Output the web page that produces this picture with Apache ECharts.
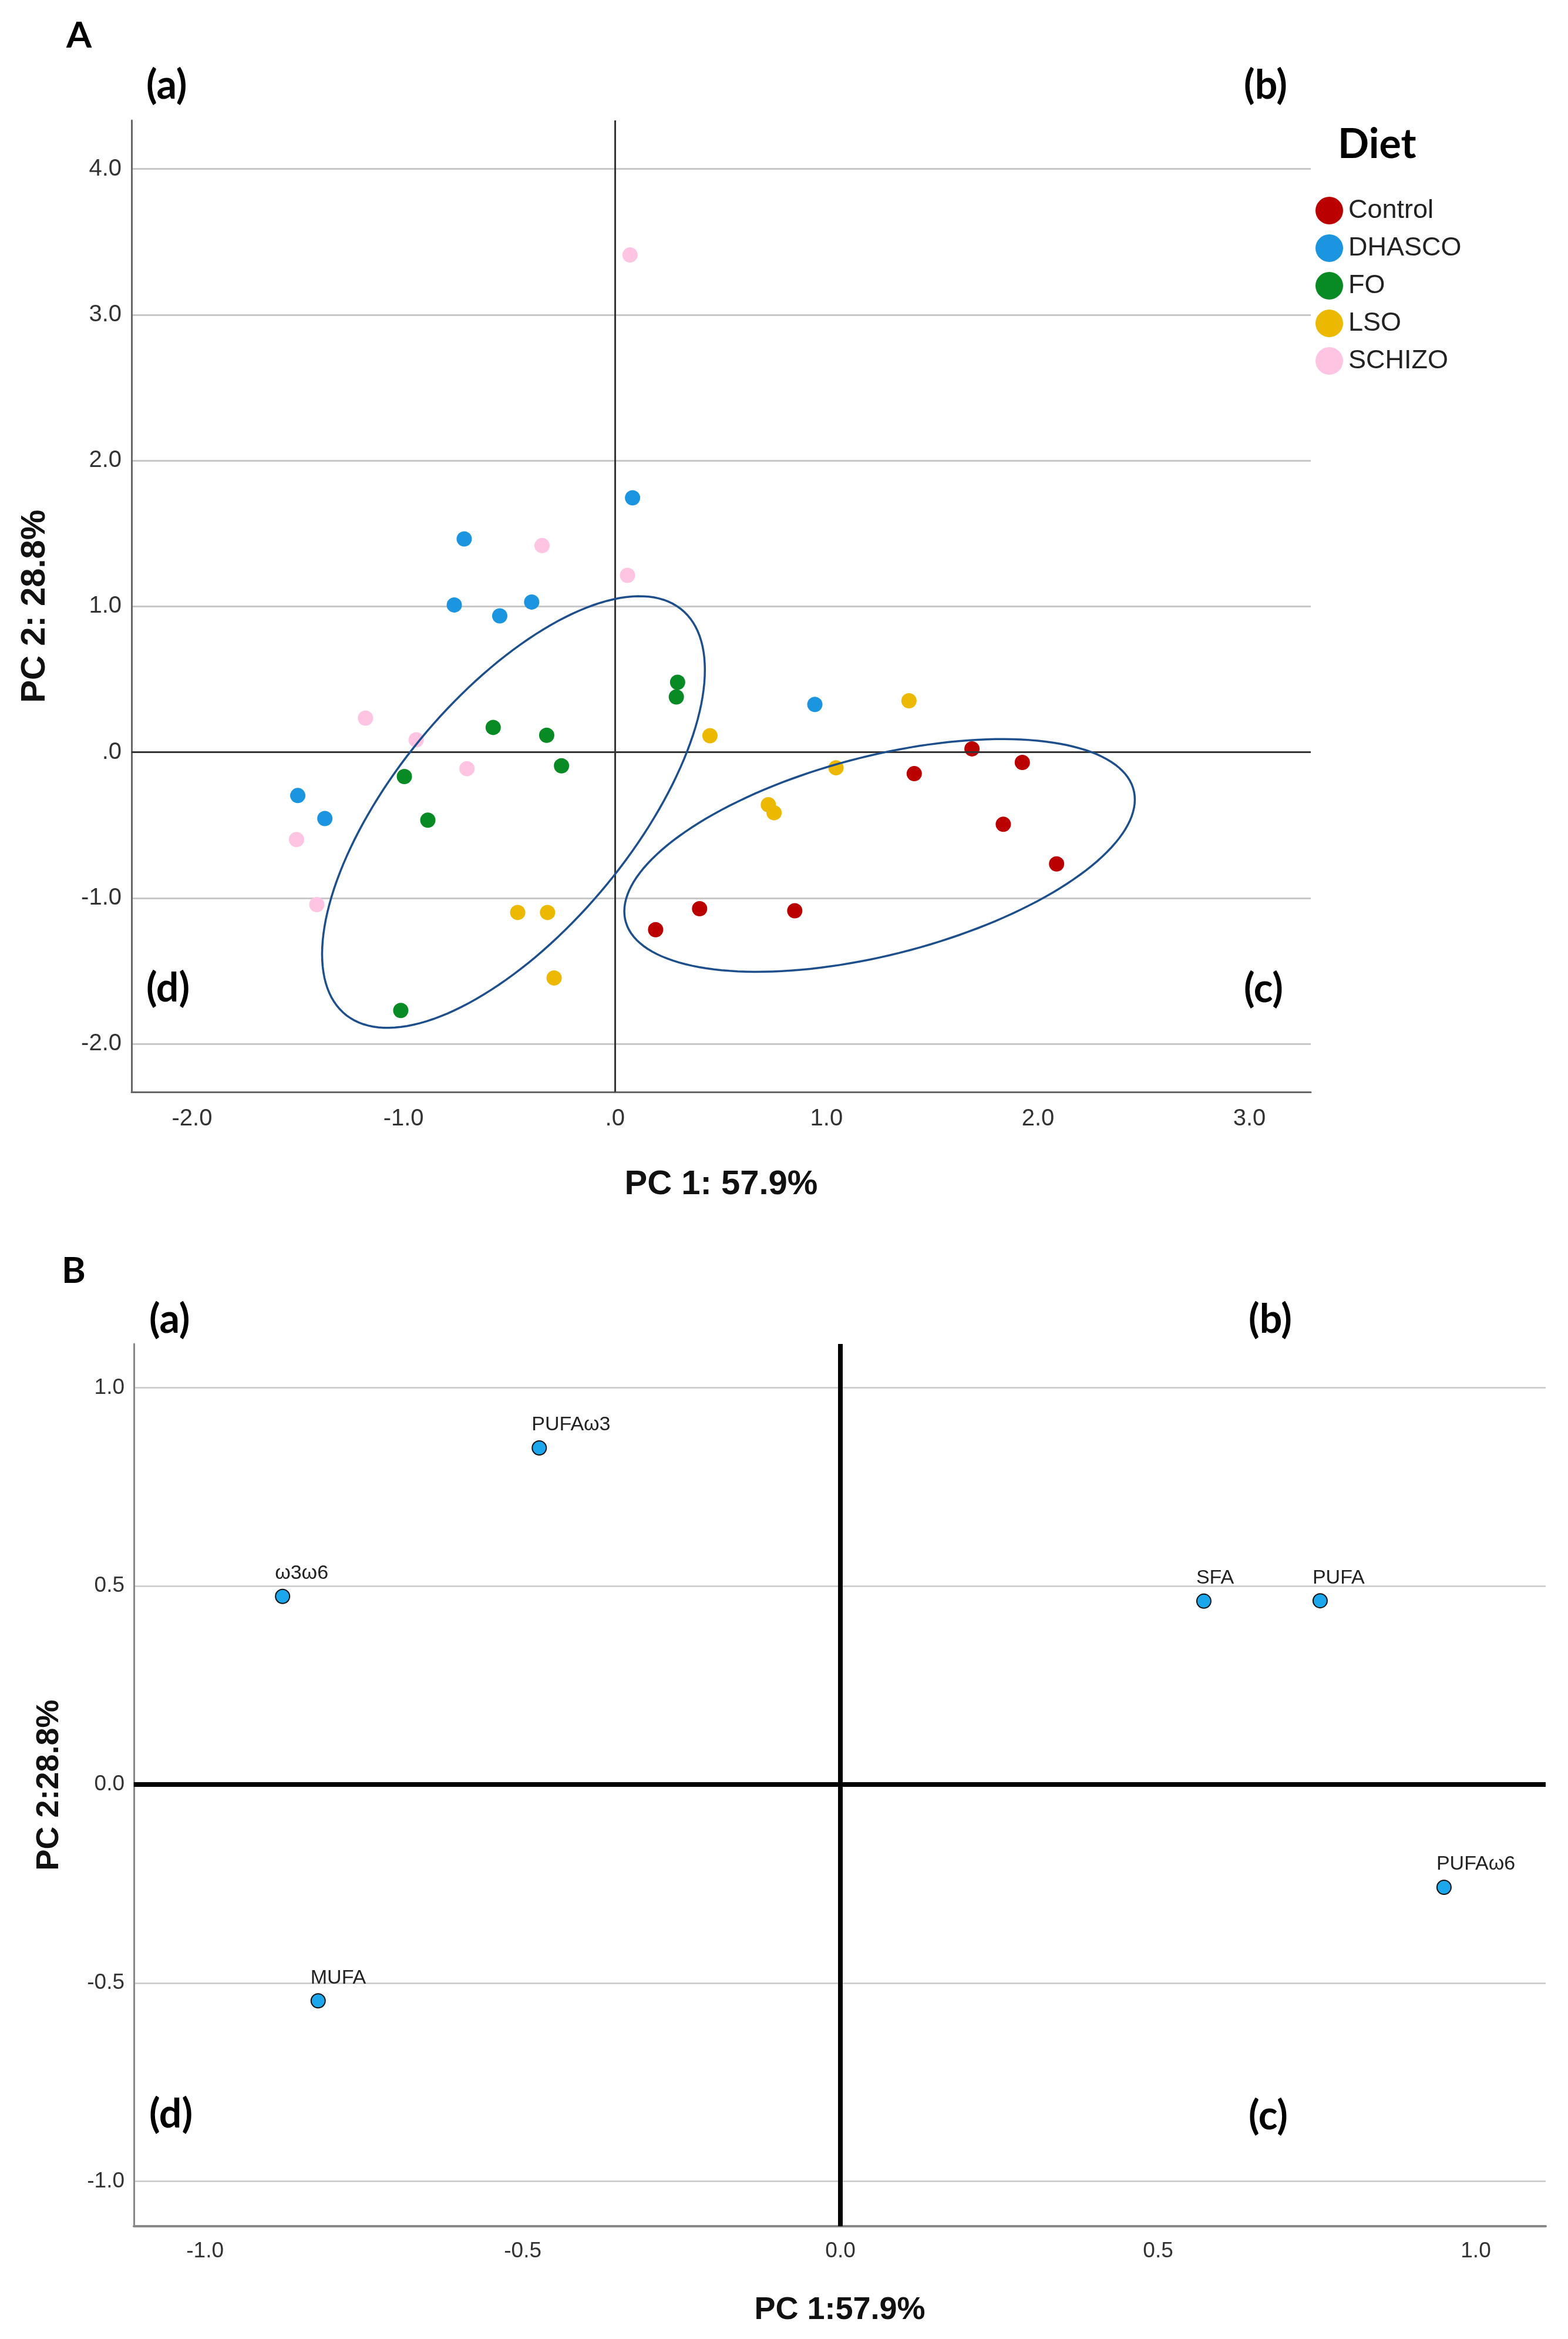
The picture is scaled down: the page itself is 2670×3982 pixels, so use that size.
<!DOCTYPE html>
<html>
<head>
<meta charset="utf-8">
<title>PCA diet scores and fatty acid loadings</title>
<script src="https://cdn.jsdelivr.net/npm/echarts@6/dist/echarts.min.js"></script>
<style>
  html, body { margin: 0; padding: 0; background: #fff; }
  #main { width: 2670px; height: 3982px; }
</style>
</head>
<body>
<div id="main"></div>
<script>
// ---- panel A: sample scores, one pair of arrays per diet ----
const diets = ['Control', 'DHASCO', 'FO', 'LSO', 'SCHIZO'];

const controlPC1 = [1.688, 1.926, 1.415, 1.836, 2.088, 0.40, 0.85, 0.192];
const controlPC2 = [0.023, -0.07, -0.147, -0.494, -0.766, -1.073, -1.087, -1.217];
const dhascoPC1 = [0.083, -0.713, -0.76, -0.545, -0.394, -1.50, -1.372, 0.945];
const dhascoPC2 = [1.745, 1.463, 1.01, 0.935, 1.03, -0.297, -0.455, 0.328];
const foPC1 = [0.296, 0.29, -0.576, -0.323, -0.253, -0.996, -0.885, -1.013];
const foPC2 = [0.48, 0.379, 0.17, 0.116, -0.093, -0.167, -0.466, -1.771];
const lsoPC1 = [1.39, 0.449, 1.045, 0.725, 0.752, -0.46, -0.319, -0.288];
const lsoPC2 = [0.353, 0.113, -0.107, -0.36, -0.415, -1.099, -1.099, -1.548];
const schizoPC1 = [0.071, -0.345, 0.059, -1.18, -0.94, -0.70, -1.506, -1.41];
const schizoPC2 = [3.41, 1.417, 1.213, 0.234, 0.085, -0.113, -0.599, -1.045];

// cluster ellipses: centre x, centre y, half-width, half-height, phase
const leftEllipse = [-0.48, -0.41, 0.905, 1.48, 0.852];
const rightEllipse = [1.251, -0.708, 1.207, 0.798, 1.07];

// ---- panel B: variable loadings ----
const fattyAcids = ['PUFAω3', 'ω3ω6', 'SFA', 'PUFA', 'PUFAω6', 'MUFA'];
const loadPC1 = [-0.474, -0.878, 0.572, 0.755, 0.950, -0.822];
const loadPC2 = [0.848, 0.474, 0.462, 0.463, -0.259, -0.545];

const dietColors = ['#bb0000', '#1b95e0', '#088a25', '#edb900', '#ffc4e1'];
const sans = "'Liberation Sans', Arial, sans-serif";
const heading = "Lato, 'Open Sans', sans-serif";

const pairs = (xs, ys) => xs.map((x, i) => [x, ys[i]]);
const scoreData = [
  pairs(controlPC1, controlPC2),
  pairs(dhascoPC1, dhascoPC2),
  pairs(foPC1, foPC2),
  pairs(lsoPC1, lsoPC2),
  pairs(schizoPC1, schizoPC2)
];

const stepLabel = (step, zero) => v => {
  if (Math.abs(v / step - Math.round(v / step)) > 1e-6) return '';
  return Math.abs(v) < 1e-9 ? zero : v.toFixed(1);
};

function valueAxis(grid, min, max, step, zero, extra) {
  return Object.assign({
    type: 'value', gridIndex: grid, min: min, max: max,
    minInterval: step, maxInterval: step,
    axisTick: { show: false },
    axisLabel: { formatter: stepLabel(step, zero), color: '#333', fontFamily: sans,
      showMinLabel: false, showMaxLabel: false },
    splitLine: { show: false, showMinLine: false, showMaxLine: false }
  }, extra);
}

const ellipseSeries = {
  type: 'custom', xAxisIndex: 0, yAxisIndex: 0, silent: true, z: 5,
  encode: { x: 0, y: 1 },
  data: [leftEllipse, rightEllipse],
  renderItem: function (params, api) {
    const cx = api.value(0), cy = api.value(1), ax = api.value(2), ay = api.value(3), ph = api.value(4);
    const pts = [];
    for (let i = 0; i <= 160; i++) {
      const t = i / 160 * Math.PI * 2;
      pts.push(api.coord([cx + ax * Math.cos(t), cy + ay * Math.cos(t - ph)]));
    }
    return { type: 'polyline', shape: { points: pts },
      style: { fill: null, stroke: '#1d4f8c', lineWidth: 3.5 } };
  }
};

const scoreSeries = diets.map((d, i) => ({
  name: d, type: 'scatter', xAxisIndex: 0, yAxisIndex: 0,
  data: scoreData[i], symbolSize: 26, z: 4,
  itemStyle: { color: dietColors[i], opacity: 1 },
  markLine: i === 0 ? {
    silent: true, symbol: 'none', label: { show: false },
    lineStyle: { color: '#333', width: 3, type: 'solid' },
    data: [{ xAxis: 0 }, { yAxis: 0 }]
  } : undefined
}));

const loadingSeries = {
  type: 'scatter', xAxisIndex: 1, yAxisIndex: 1, z: 4,
  data: fattyAcids.map((n, i) => ({ name: n, value: [loadPC1[i], loadPC2[i]] })),
  symbolSize: 24,
  itemStyle: { color: '#1ca6ec', borderColor: '#111', borderWidth: 2, opacity: 1 },
  label: { show: true, formatter: '{b}', position: [0, -9], align: 'left', verticalAlign: 'bottom',
    fontFamily: sans, fontSize: 34, color: '#222' },
  markLine: {
    silent: true, symbol: 'none', label: { show: false },
    lineStyle: { color: '#000', width: 8, type: 'solid' },
    data: [{ xAxis: 0 }, { yAxis: 0 }]
  }
};

function tag(text, x, y, size) {
  return { type: 'text', left: x, top: y - size / 2, silent: true,
    style: { text: text, font: 'bold ' + size + 'px ' + heading, fill: '#000' } };
}

const titleFont = { fontFamily: sans, fontWeight: 'bold', color: '#111' };

const chart = echarts.init(document.getElementById('main'));
chart.setOption({
  animation: false,
  backgroundColor: '#fff',
  grid: [
    { left: 224, top: 205, width: 2008, height: 1654 },
    { left: 228, top: 2288, width: 2404, height: 1502 }
  ],
  xAxis: [
    valueAxis(0, -2.286, 3.29, 1, '.0', {
      name: 'PC 1: 57.9%', nameLocation: 'middle', nameGap: 129,
      nameTextStyle: Object.assign({ fontSize: 58 }, titleFont),
      axisLine: { show: true, onZero: false, lineStyle: { color: '#666', width: 3 } },
      axisLabel: { formatter: stepLabel(1, '.0'), color: '#333', fontFamily: sans, fontSize: 40, margin: 26,
        showMinLabel: false, showMaxLabel: false }
    }),
    valueAxis(1, -1.112, 1.110, 0.5, '0.0', {
      name: 'PC 1:57.9%', nameLocation: 'middle', nameGap: 116,
      nameTextStyle: Object.assign({ fontSize: 54 }, titleFont),
      axisLine: { show: true, onZero: false, lineStyle: { color: '#888', width: 4 } },
      axisLabel: { formatter: stepLabel(0.5, '0.0'), color: '#333', fontFamily: sans, fontSize: 37, margin: 24,
        showMinLabel: false, showMaxLabel: false }
    })
  ],
  yAxis: [
    valueAxis(0, -2.33, 4.333, 1, '.0', {
      name: 'PC 2: 28.8%', nameLocation: 'middle', nameGap: 135, nameRotate: 90,
      nameTextStyle: Object.assign({ fontSize: 58 }, titleFont),
      axisLine: { show: true, onZero: false, lineStyle: { color: '#666', width: 3 } },
      axisLabel: { formatter: stepLabel(1, '.0'), color: '#333', fontFamily: sans, fontSize: 40, margin: 17,
        showMinLabel: false, showMaxLabel: false },
      splitLine: { show: true, showMinLine: false, showMaxLine: false, lineStyle: { color: '#c8c8c8', width: 3 } }
    }),
    valueAxis(1, -1.113, 1.110, 0.5, '0.0', {
      name: 'PC 2:28.8%', nameLocation: 'middle', nameGap: 117, nameRotate: 90,
      nameTextStyle: Object.assign({ fontSize: 54 }, titleFont),
      axisLine: { show: true, onZero: false, lineStyle: { color: '#888', width: 3 } },
      axisLabel: { formatter: stepLabel(0.5, '0.0'), color: '#333', fontFamily: sans, fontSize: 37, margin: 16,
        showMinLabel: false, showMaxLabel: false },
      splitLine: { show: true, showMinLine: false, showMaxLine: false, lineStyle: { color: '#c8c8c8', width: 2.5 } }
    })
  ],
  legend: {
    data: diets, orient: 'vertical', left: 2235, top: 330,
    itemWidth: 47, itemHeight: 47, itemGap: 17, icon: 'circle',
    textStyle: { fontFamily: sans, fontSize: 45, color: '#222', padding: [0, 0, 0, 4] },
    selectedMode: false
  },
  graphic: [
    tag('A', 113, 61, 62),
    tag('(a)', 249, 146, 68),
    tag('(b)', 2118, 146, 68),
    tag('(d)', 249, 1683, 68),
    tag('(c)', 2118, 1684, 68),
    tag('Diet', 2278, 246, 70),
    tag('B', 105, 2164, 62),
    tag('(a)', 254, 2247, 68),
    tag('(b)', 2126, 2247, 68),
    tag('(d)', 254, 3600, 68),
    tag('(c)', 2126, 3603, 68)
  ],
  series: [ellipseSeries].concat(scoreSeries, [loadingSeries])
});
</script>
</body>
</html>
